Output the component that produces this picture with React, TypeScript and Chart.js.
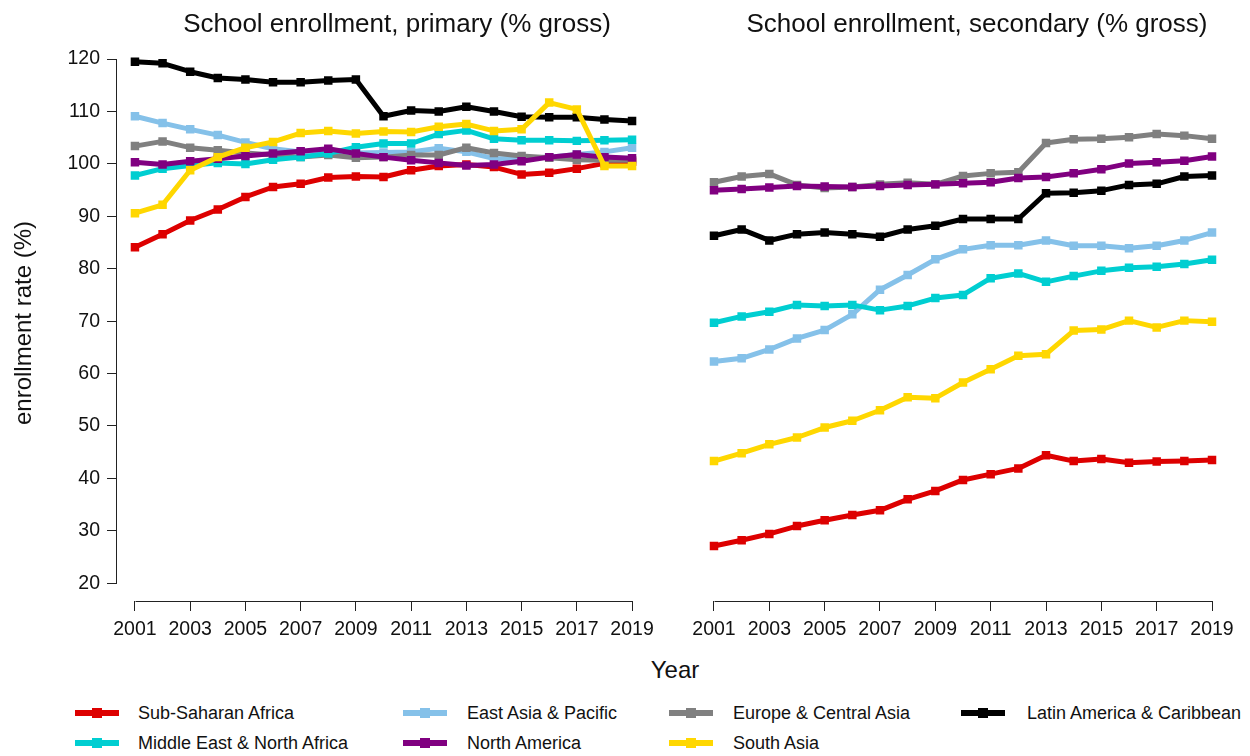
import React, { useEffect, useRef } from "react";
import { Chart, registerables } from "chart.js";

Chart.register(...registerables);

// ---------- data ----------
const years = [2001, 2002, 2003, 2004, 2005, 2006, 2007, 2008, 2009, 2010, 2011, 2012, 2013, 2014, 2015, 2016, 2017, 2018, 2019];
const xTickValues = [2001, 2003, 2005, 2007, 2009, 2011, 2013, 2015, 2017, 2019];
const yTickValues = [20, 30, 40, 50, 60, 70, 80, 90, 100, 110, 120];

const regionNames = [
  "Sub-Saharan Africa",
  "East Asia & Pacific",
  "Europe & Central Asia",
  "Latin America & Caribbean",
  "Middle East & North Africa",
  "North America",
  "South Asia",
];
const regionColors = ["#DD0000", "#85C1E9", "#808080", "#000000", "#00CED1", "#800080", "#FFD700"];

const primarySSA = [84.1, 86.6, 89.2, 91.3, 93.7, 95.6, 96.2, 97.4, 97.6, 97.5, 98.8, 99.6, 99.9, 99.4, 98.0, 98.3, 99.1, 100.1, 100.4];
const primaryEAP = [109.1, 107.8, 106.6, 105.5, 104.1, 102.9, 102.3, 102.1, 102.1, 102.2, 102.3, 103.0, 102.3, 101.0, 101.0, 101.3, 101.8, 102.3, 103.1];
const primaryECA = [103.4, 104.3, 103.1, 102.6, 102.1, 101.7, 101.3, 101.7, 101.2, 101.3, 101.7, 101.7, 103.1, 102.1, 101.5, 101.2, 100.8, 100.7, 100.7];
const primaryLAC = [119.5, 119.2, 117.6, 116.4, 116.1, 115.6, 115.6, 115.9, 116.1, 109.1, 110.2, 110.0, 110.9, 110.0, 109.0, 108.9, 108.9, 108.5, 108.2];
const primaryMENA = [97.8, 99.1, 99.7, 100.2, 100.0, 100.8, 101.3, 102.0, 103.2, 103.9, 103.9, 105.7, 106.4, 104.8, 104.5, 104.5, 104.4, 104.5, 104.6];
const primaryNA = [100.3, 99.9, 100.5, 101.0, 101.5, 102.0, 102.4, 102.9, 102.0, 101.3, 100.7, 100.2, 99.7, 99.9, 100.5, 101.3, 101.8, 101.3, 101.1];
const primarySA = [90.6, 92.2, 98.8, 101.3, 103.1, 104.2, 105.9, 106.3, 105.8, 106.2, 106.1, 107.1, 107.6, 106.3, 106.6, 111.7, 110.4, 99.6, 99.6];

const secondarySSA = [27.1, 28.2, 29.4, 30.9, 32.0, 33.0, 33.9, 36.0, 37.6, 39.7, 40.8, 41.9, 44.4, 43.3, 43.7, 43.0, 43.2, 43.3, 43.5];
const secondaryEAP = [62.3, 62.9, 64.6, 66.7, 68.3, 71.3, 76.0, 78.8, 81.8, 83.7, 84.5, 84.5, 85.4, 84.4, 84.4, 83.9, 84.4, 85.4, 86.9];
const secondaryECA = [96.5, 97.6, 98.1, 96.0, 95.4, 95.6, 96.1, 96.4, 96.1, 97.7, 98.2, 98.4, 104.0, 104.7, 104.8, 105.1, 105.7, 105.4, 104.8];
const secondaryLAC = [86.3, 87.5, 85.4, 86.6, 86.9, 86.6, 86.1, 87.5, 88.2, 89.5, 89.5, 89.5, 94.4, 94.5, 94.9, 96.0, 96.2, 97.6, 97.8];
const secondaryMENA = [69.7, 70.9, 71.8, 73.1, 72.9, 73.1, 72.1, 72.9, 74.4, 75.0, 78.2, 79.1, 77.5, 78.6, 79.6, 80.2, 80.4, 80.9, 81.7];
const secondaryNA = [95.0, 95.2, 95.5, 95.8, 95.7, 95.6, 95.8, 96.0, 96.1, 96.3, 96.5, 97.3, 97.5, 98.2, 99.0, 100.1, 100.3, 100.6, 101.4];
const secondarySA = [43.3, 44.8, 46.5, 47.8, 49.7, 51.0, 53.0, 55.5, 55.3, 58.3, 60.8, 63.4, 63.7, 68.2, 68.4, 70.1, 68.8, 70.1, 69.9];

const primarySeries = [primarySSA, primaryEAP, primaryECA, primaryLAC, primaryMENA, primaryNA, primarySA];
const secondarySeries = [secondarySSA, secondaryEAP, secondaryECA, secondaryLAC, secondaryMENA, secondaryNA, secondarySA];

// ---------- styling ----------
const FONT = '"Liberation Sans", Arial, Helvetica, sans-serif';
const Y_MIN = 16.6;
const Y_MAX = 123.4;
const X_MIN = 2000.35;
const X_MAX = 2019.65;
const AXIS_COLOR = "#222222";

const axisLinePlugin = {
  id: "axisLines",
  afterDraw(chart: any, _args: any, opts: any) {
    const { ctx, chartArea } = chart;
    const xs = chart.scales.x;
    const ys = chart.scales.y;
    ctx.save();
    ctx.strokeStyle = AXIS_COLOR;
    ctx.lineWidth = 1;
    ctx.beginPath();
    const by = Math.round(chartArea.bottom) + 0.5;
    ctx.moveTo(Math.round(xs.getPixelForValue(xTickValues[0])) + 0.5, by);
    ctx.lineTo(Math.round(xs.getPixelForValue(xTickValues[xTickValues.length - 1])) + 0.5, by);
    if (opts && opts.showY) {
      const lx = Math.round(chartArea.left) - 0.5;
      ctx.moveTo(lx, Math.round(ys.getPixelForValue(yTickValues[0])) + 0.5);
      ctx.lineTo(lx, Math.round(ys.getPixelForValue(yTickValues[yTickValues.length - 1])) + 0.5);
    }
    ctx.stroke();
    ctx.restore();
  },
};

function buildConfig(series: number[][], showY: boolean, padLeft: number, padRight: number): any {
  const tickFont = { family: FONT, size: 19.5 };
  return {
    type: "line",
    data: {
      datasets: series.map((vals, i) => ({
        label: regionNames[i],
        data: vals.map((v, j) => ({ x: years[j], y: v })),
        borderColor: regionColors[i],
        backgroundColor: regionColors[i],
        pointBackgroundColor: regionColors[i],
        borderWidth: 5,
        borderJoinStyle: "round",
        pointStyle: "rect",
        pointRadius: 6,
        pointBorderWidth: 0,
        tension: 0,
        order: series.length - i,
      })),
    },
    options: {
      animation: false,
      responsive: false,
      maintainAspectRatio: false,
      events: [],
      layout: { padding: { left: padLeft, right: padRight, top: 41.3, bottom: 0 } },
      plugins: {
        legend: { display: false },
        tooltip: { enabled: false },
        title: { display: false },
        axisLines: { showY },
      },
      scales: {
        x: {
          type: "linear",
          min: X_MIN,
          max: X_MAX,
          afterBuildTicks: (s: any) => {
            s.ticks = xTickValues.map((v) => ({ value: v }));
          },
          afterFit: (s: any) => {
            s.height = 49;
            s.paddingLeft = 0;
            s.paddingRight = 0;
          },
          grid: { drawOnChartArea: false, drawTicks: true, tickLength: 10, color: AXIS_COLOR, lineWidth: 1 },
          border: { display: false },
          ticks: {
            autoSkip: false,
            maxRotation: 0,
            minRotation: 0,
            padding: 7,
            color: "#111111",
            font: tickFont,
            callback: (v: any) => String(v),
          },
        },
        y: {
          type: "linear",
          display: showY,
          min: Y_MIN,
          max: Y_MAX,
          afterBuildTicks: (s: any) => {
            s.ticks = yTickValues.map((v) => ({ value: v }));
          },
          afterFit: (s: any) => {
            if (showY) {
              s.width = 117;
            }
            s.paddingTop = 0;
            s.paddingBottom = 0;
          },
          grid: { drawOnChartArea: false, drawTicks: true, tickLength: 10, color: AXIS_COLOR, lineWidth: 1 },
          border: { display: false },
          ticks: {
            padding: 7,
            color: "#111111",
            font: tickFont,
            callback: (v: any) => String(v),
          },
        },
      },
    },
    plugins: [axisLinePlugin],
  };
}

function Panel(props: { series: number[][]; showY: boolean; left: number; width: number; padLeft: number; padRight: number }) {
  const ref = useRef<HTMLCanvasElement | null>(null);
  useEffect(() => {
    if (!ref.current) return;
    const chart = new Chart(ref.current, buildConfig(props.series, props.showY, props.padLeft, props.padRight));
    return () => chart.destroy();
  }, []);
  return (
    <canvas
      ref={ref}
      width={props.width}
      height={650}
      style={{ position: "absolute", left: props.left, top: 0, width: props.width, height: 650, display: "block" }}
    />
  );
}

const legendLineX = [75, 403, 669, 961];
const legendTextX = [138, 467, 733, 1027];
const legendRowY = [713, 743];

export default function App() {
  const textBase: React.CSSProperties = {
    position: "absolute",
    fontFamily: FONT,
    color: "#111111",
    whiteSpace: "nowrap",
  };
  return (
    <div style={{ position: "absolute", left: 0, top: 0, width: 1250, height: 756, background: "#ffffff", overflow: "hidden" }}>
      <Panel series={primarySeries} showY={true} left={0} width={670} padLeft={0} padRight={20} />
      <Panel series={secondarySeries} showY={false} left={680} width={570} padLeft={16} padRight={20} />

      <div style={{ ...textBase, left: 397 - 300, width: 600, top: 8, fontSize: 26, lineHeight: "30px", textAlign: "center" }}>
        School enrollment, primary (% gross)
      </div>
      <div style={{ ...textBase, left: 977 - 300, width: 600, top: 8, fontSize: 26, lineHeight: "30px", textAlign: "center" }}>
        School enrollment, secondary (% gross)
      </div>
      <div
        style={{
          ...textBase,
          left: 23 - 200,
          top: 323 - 15,
          width: 400,
          height: 30,
          fontSize: 24,
          lineHeight: "30px",
          textAlign: "center",
          transform: "rotate(-90deg)",
        }}
      >
        enrollment rate (%)
      </div>
      <div style={{ ...textBase, left: 675 - 100, width: 200, top: 655, fontSize: 24, lineHeight: "30px", textAlign: "center" }}>
        Year
      </div>

      {regionNames.map((name, i) => {
        const row = Math.floor(i / 4);
        const col = i % 4;
        const cy = legendRowY[row];
        const lx = legendLineX[col];
        return (
          <React.Fragment key={name}>
            <div style={{ position: "absolute", left: lx, top: cy - 3, width: 44, height: 6, background: regionColors[i] }} />
            <div style={{ position: "absolute", left: lx + 17, top: cy - 5, width: 10, height: 10, background: regionColors[i] }} />
            <div style={{ ...textBase, left: legendTextX[col], top: cy - 15, fontSize: 18, lineHeight: "30px" }}>{name}</div>
          </React.Fragment>
        );
      })}
    </div>
  );
}
